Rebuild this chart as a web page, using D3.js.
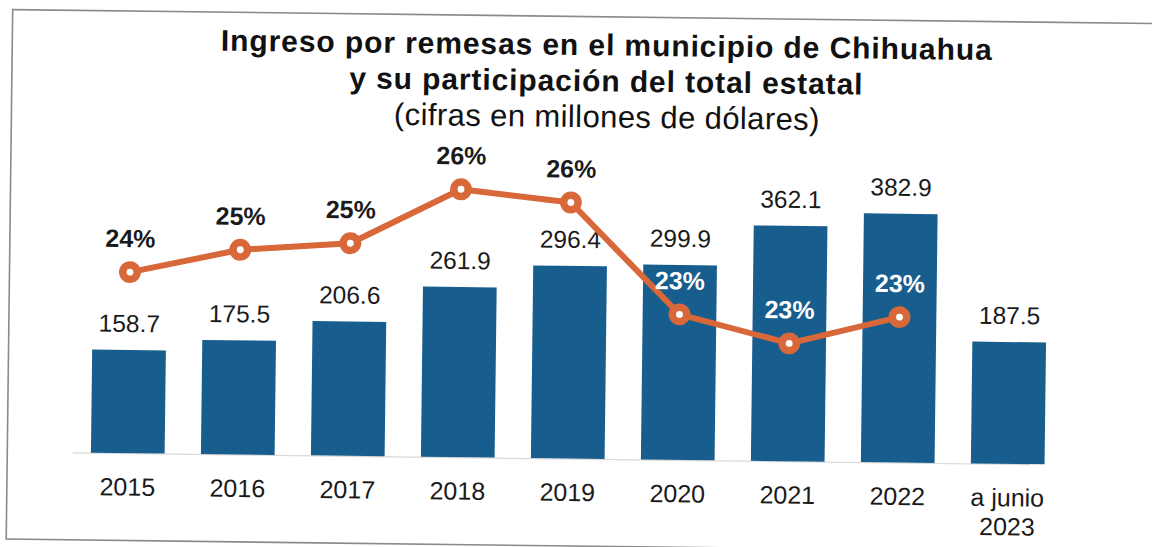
<!DOCTYPE html>
<html>
<head>
<meta charset="utf-8">
<script src="https://cdn.jsdelivr.net/npm/d3@7"></script>
<style>
  body { margin: 0; background: #fff; }
  svg { display: block; font-family: "Liberation Sans", Arial, sans-serif; }
</style>
</head>
<body>
<div id="chart"></div>
<script>
(function() {
  var years = ["2015", "2016", "2017", "2018", "2019", "2020", "2021", "2022", "a junio|2023"];
  var remesas = [158.7, 175.5, 206.6, 261.9, 296.4, 299.9, 362.1, 382.9, 187.5];
  // share of state total (%), only full years
  var participacion = [24.2, 24.8, 25.0, 26.4, 26.1, 23.3, 22.6, 23.3];
  var titleLines = ["Ingreso por remesas en el municipio de Chihuahua", "y su participación del total estatal"];
  var subtitle = "(cifras en millones de dólares)";

  var outerWidth = 1152,
      outerHeight = 547;

  var barColor = "#175d8d",
      lineColor = "#d8673a";

  var svg = d3.select("#chart").append("svg")
      .attr("width", outerWidth)
      .attr("height", outerHeight);

  // the original is a slightly tilted scan
  var g = svg.append("g")
      .attr("transform", "rotate(0.7," + outerWidth / 2 + "," + outerHeight / 2 + ")");

  g.append("rect")
      .attr("x", 9.5)
      .attr("y", 16.5)
      .attr("width", 1170)
      .attr("height", 529.5)
      .attr("fill", "#fff")
      .attr("stroke", "#8a8a8a")
      .attr("stroke-width", 1.6);

  var x = d3.scaleBand()
      .domain(years)
      .range([75, 1065])
      .paddingInner(0.33)
      .paddingOuter(0.165);

  var y = d3.scaleLinear()
      .domain([0, 450])
      .range([458.6, 166.1]);

  var yPct = d3.scaleLinear()
      .domain([20, 28])
      .range([443.5, 127.5]);

  var title = g.append("g")
      .attr("fill", "#111");

  // title lines are laid out word by word so each piece stays small once tilted
  function centeredWords(parent, text, cx, cy, size, weight, spacing) {
    var words = text.split(" ");
    var probe = parent.append("text")
        .style("font-size", size)
        .style("font-weight", weight)
        .style("letter-spacing", spacing);
    var widthOf = s => probe.text(s).node().getComputedTextLength();
    var total = widthOf(text);
    var offsets = words.map((w, i) => widthOf(words.slice(0, i + 1).join(" ")) - widthOf(w));
    probe.remove();

    parent.selectAll(null)
        .data(words)
      .enter().append("text")
        .attr("x", (w, i) => cx - total / 2 + offsets[i])
        .attr("y", cy)
        .style("font-size", size)
        .style("font-weight", weight)
        .style("letter-spacing", spacing)
        .text(w => w);
  }

  titleLines.forEach((t, i) => centeredWords(title, t, 604, 55 + i * 36, "30px", "bold", "0.9px"));
  centeredWords(title, subtitle, 605, 127, "31px", "normal", "0.4px");

  g.append("line")
      .attr("x1", 75)
      .attr("x2", 1032)
      .attr("y1", y(0) + 0.5)
      .attr("y2", y(0) + 0.5)
      .attr("stroke", "#d9d9d9")
      .attr("stroke-width", 1.2);

  g.selectAll(".bar")
      .data(remesas)
    .enter().append("rect")
      .attr("class", "bar")
      .attr("x", (d, i) => x(years[i]))
      .attr("y", d => y(d))
      .attr("width", x.bandwidth())
      .attr("height", d => y(0) - y(d))
      .attr("fill", barColor);

  g.selectAll(".bar-label")
      .data(remesas)
    .enter().append("text")
      .attr("class", "bar-label")
      .attr("x", (d, i) => x(years[i]) + x.bandwidth() / 2)
      .attr("y", d => y(d) - 18)
      .attr("text-anchor", "middle")
      .attr("fill", "#1a1a1a")
      .style("font-size", "24.5px")
      .text(d => d3.format(".1f")(d));

  var xAxis = g.append("g")
      .attr("text-anchor", "middle")
      .attr("fill", "#1a1a1a")
      .style("font-size", "25px");

  xAxis.selectAll("text")
      .data(years)
    .enter().append("text")
      .attr("x", d => x(d) + x.bandwidth() / 2)
      .attr("y", 501)
      .each(function(d) {
        var parts = d.split("|");
        d3.select(this).selectAll("tspan")
            .data(parts)
          .enter().append("tspan")
            .attr("x", d3.select(this).attr("x"))
            .attr("dy", (p, j) => j ? 29 : 0)
            .text(p => p);
      });

  var line = d3.line()
      .x((d, i) => x(years[i]) + x.bandwidth() / 2)
      .y(d => yPct(d));

  g.append("path")
      .datum(participacion)
      .attr("d", line)
      .attr("fill", "none")
      .attr("stroke", lineColor)
      .attr("stroke-width", 6)
      .attr("stroke-linejoin", "round");

  g.selectAll(".dot")
      .data(participacion)
    .enter().append("circle")
      .attr("class", "dot")
      .attr("cx", (d, i) => x(years[i]) + x.bandwidth() / 2)
      .attr("cy", d => yPct(d))
      .attr("r", 7.2)
      .attr("fill", "#fff")
      .attr("stroke", lineColor)
      .attr("stroke-width", 7.5);

  // labels that fall inside the bars are white
  g.selectAll(".pct-label")
      .data(participacion)
    .enter().append("text")
      .attr("class", "pct-label")
      .attr("x", (d, i) => x(years[i]) + x.bandwidth() / 2)
      .attr("y", d => yPct(d) - 25)
      .attr("text-anchor", "middle")
      .attr("fill", (d, i) => yPct(d) - 25 > y(remesas[i]) + 15 ? "#fff" : "#1a1a1a")
      .style("font-size", "25px")
      .style("font-weight", "bold")
      .text(d => d3.format(".0f")(d) + "%");
})();
</script>
</body>
</html>
